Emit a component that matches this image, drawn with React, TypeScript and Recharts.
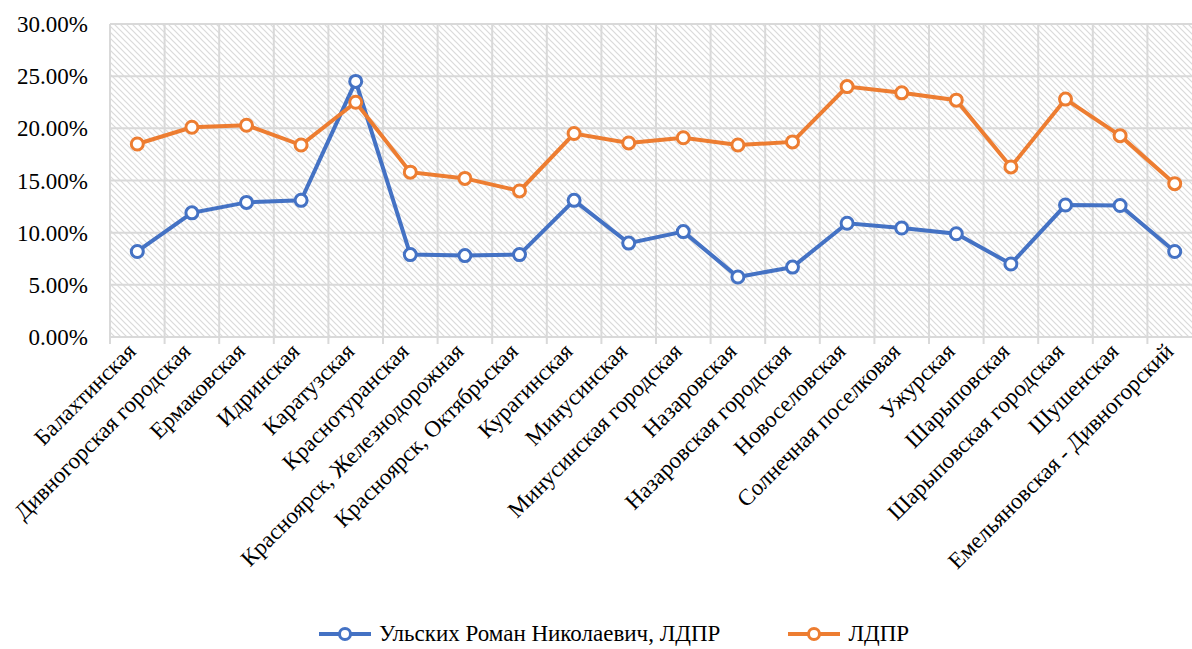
import React from 'react';
import { LineChart, Line, XAxis, YAxis, CartesianGrid, Legend } from 'recharts';

const districts = [
  'Балахтинская',
  'Дивногорская городская',
  'Ермаковская',
  'Идринская',
  'Каратузская',
  'Краснотуранская',
  'Красноярск, Железнодорожная',
  'Красноярск, Октябрьская',
  'Курагинская',
  'Минусинская',
  'Минусинская городская',
  'Назаровская',
  'Назаровская городская',
  'Новоселовская',
  'Солнечная поселковая',
  'Ужурская',
  'Шарыповская',
  'Шарыповская городская',
  'Шушенская',
  'Емельяновская - Дивногорский',
];

// проценты
const candidate = [8.2, 11.9, 12.9, 13.1, 24.5, 7.9, 7.8, 7.9, 13.1, 9.0, 10.1, 5.75, 6.7, 10.9, 10.45, 9.9, 7.0, 12.65, 12.6, 8.2];
const party = [18.5, 20.1, 20.3, 18.4, 22.5, 15.8, 15.2, 14.0, 19.5, 18.6, 19.1, 18.4, 18.7, 24.0, 23.4, 22.7, 16.3, 22.8, 19.3, 14.7];

const yTicks = [0, 5, 10, 15, 20, 25, 30];

const seriesNames = ['Ульских Роман Николаевич, ЛДПР', 'ЛДПР'];
const colors = ['#4472C4', '#ED7D31'];

const data = districts.map((name, i) => ({ name, candidate: candidate[i], party: party[i] }));

const FONT = 'Liberation Serif';
const CHART_W = 1210;
const CHART_H = 649;
const MARGIN = { top: 24, right: 8, left: 0, bottom: 0 };
const Y_W = 110;
const BAND = (CHART_W - MARGIN.right - Y_W) / districts.length;

const CategoryTick = (props: any) => {
  const { x, y, payload } = props;
  return (
    <g transform={`translate(${x},${y})`}>
      <line x1={-BAND / 2} x2={-BAND / 2} y1={-8} y2={-1} stroke="#d9d9d9" strokeWidth={2} />
      <text
        x={-5.5}
        y={5.5}
        transform="rotate(-45)"
        textAnchor="end"
        fontFamily={FONT}
        fontSize={23}
        fill="#000"
      >
        {payload.value}
      </text>
    </g>
  );
};

const LegendIcon = ({ color }: { color: string }) => (
  <svg width={52} height={16} style={{ marginRight: 8 }}>
    <line x1={0} y1={8} x2={52} y2={8} stroke={color} strokeWidth={4} />
    <circle cx={26} cy={8} r={5.5} fill="#fff" stroke={color} strokeWidth={3} />
  </svg>
);

const renderLegend = () => (
  <div
    style={{
      display: 'flex',
      justifyContent: 'center',
      alignItems: 'center',
      fontFamily: FONT,
      fontSize: 23,
      color: '#000',
      height: 30,
      paddingLeft: 26,
    }}
  >
    {seriesNames.map((s, i) => (
      <div key={s} style={{ display: 'flex', alignItems: 'center', marginRight: i === 0 ? 68 : 0 }}>
        <LegendIcon color={colors[i]} />
        <span>{s}</span>
      </div>
    ))}
  </div>
);

export default function App() {
  return (
    <div style={{ position: 'fixed', left: 0, top: 0, width: 1192, height: 649, overflow: 'hidden', background: '#fff' }}>
      <LineChart width={CHART_W} height={CHART_H} data={data} margin={MARGIN}>
        <defs>
          <pattern id="hatch" width="6" height="6" patternUnits="userSpaceOnUse">
            <rect width="6" height="6" fill="#fff" />
            <path d="M0,0 L6,6 M-1,5 L1,7 M5,-1 L7,1" stroke="#dadada" strokeWidth={1.2} />
          </pattern>
        </defs>
        <CartesianGrid
          fill="url(#hatch)"
          stroke="#d9d9d9"
          strokeWidth={2}
          verticalCoordinatesGenerator={({ offset }: any) =>
            Array.from({ length: districts.length + 1 }, (_, i) => offset.left + (i * offset.width) / districts.length)
          }
        />
        <XAxis
          dataKey="name"
          interval={0}
          height={282}
          axisLine={false}
          tickLine={false}
          padding={{ left: BAND / 2, right: BAND / 2 }}
          tick={<CategoryTick />}
        />
        <YAxis
          domain={[0, 30]}
          ticks={yTicks}
          width={Y_W}
          axisLine={false}
          tickLine={false}
          tickMargin={16}
          tickFormatter={(v: number) => `${v.toFixed(2)}%`}
          tick={{ fontSize: 23, fill: '#000', fontFamily: FONT }}
        />
        <Legend verticalAlign="bottom" content={renderLegend} />
        <Line
          dataKey="candidate"
          name={seriesNames[0]}
          stroke={colors[0]}
          strokeWidth={4}
          dot={{ r: 6, fill: '#fff', stroke: colors[0], strokeWidth: 3 }}
          activeDot={false}
          isAnimationActive={false}
        />
        <Line
          dataKey="party"
          name={seriesNames[1]}
          stroke={colors[1]}
          strokeWidth={4}
          dot={{ r: 6, fill: '#fff', stroke: colors[1], strokeWidth: 3 }}
          activeDot={false}
          isAnimationActive={false}
        />
      </LineChart>
    </div>
  );
}
